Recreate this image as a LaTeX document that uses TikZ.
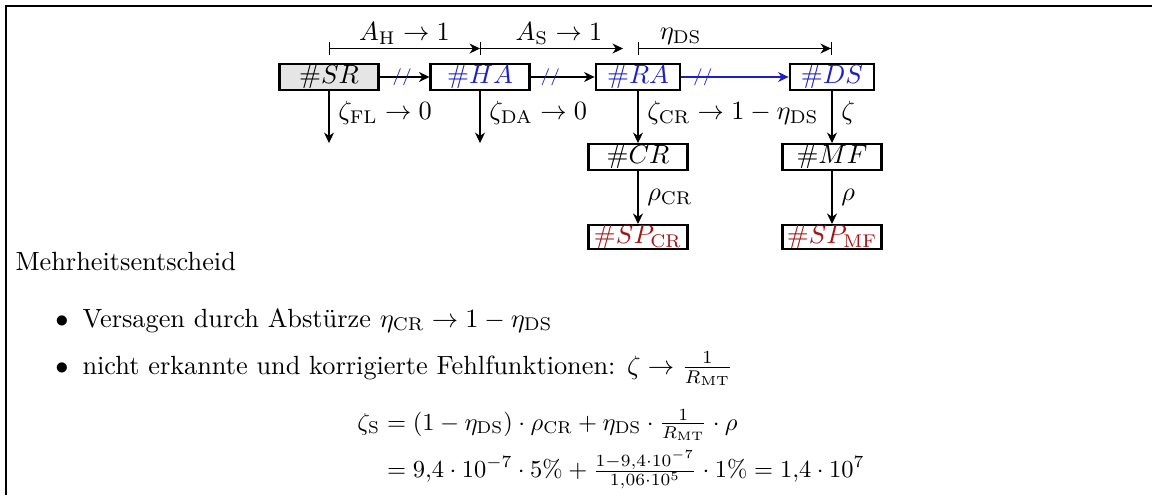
\documentclass[tikz,border=0pt]{standalone}
\usepackage{amsmath}
\usetikzlibrary{arrows.meta,calc}
\definecolor{flowblue}{RGB}{30,30,200}
\definecolor{sinkred}{RGB}{165,20,20}

\begin{document}
\begin{tikzpicture}[x=0.38pt,y=-0.38pt,
  state/.style={draw,thick,inner sep=0pt,minimum width=37.6pt,minimum height=10.2pt},
  flow/.style={-{Stealth[length=4pt,width=3.8pt]}},
  dimline/.style={{Bar[width=5pt]}-{Stealth[length=4pt,width=3.8pt]}},
  cut/.style={font=\fontsize{6.5}{6.5}\selectfont,text=flowblue,inner sep=0pt},
  txt/.style={inner sep=0pt}]
\useasboundingbox (0,0) rectangle (1152,495);
% frame
\draw[line width=0.6pt] (6,495) -- (6,6) -- (1152,6);
% states
\node[state,fill=black!10] (SR) at (329,77) {$\#SR$};
\node[state,text=flowblue] (HA) at (480,77) {$\#HA$};
\node[state,text=flowblue,minimum width=32.2pt] (RA) at (638,77) {$\#RA$};
\node[state,text=flowblue,minimum width=32.2pt] (DS) at (832,77) {$\#DS$};
\node[state,minimum height=9.8pt] (CR) at (638,157) {$\#CR$};
\node[state,minimum height=9.8pt] (MF) at (832,157) {$\#MF$};
\node[state,text=sinkred,minimum height=9.1pt] (SPCR) at (638,237) {$\#SP_\mathrm{CR}$};
\node[state,text=sinkred,minimum height=9.1pt] (SPMF) at (832,237) {$\#SP_\mathrm{MF}$};
% transitions
\draw[flow] (SR) -- node[cut,pos=0.45] {//} (HA);
\draw[flow] (HA) -- node[cut,pos=0.31] {//} (RA);
\draw[flow,flowblue] (RA) -- node[cut,pos=0.2] {//} (DS);
\coordinate (endSR) at (SR |- CR.north);
\coordinate (endHA) at (HA |- CR.north);
\draw[flow] (SR) -- node[right,yshift=1.5pt] {$\zeta_\mathrm{FL}\to 0$} (endSR);
\draw[flow] (HA) -- node[right,yshift=1.5pt] {$\zeta_\mathrm{DA}\to 0$} (endHA);
\draw[flow] (RA) -- node[right,yshift=1.5pt] {$\zeta_\mathrm{CR}\to 1-\eta_\mathrm{DS}$} (CR);
\draw[flow] (DS) -- node[right,yshift=1.5pt] {$\zeta$} (MF);
\draw[flow] (CR) -- node[right] {$\rho_\mathrm{CR}$} (SPCR);
\draw[flow] (MF) -- node[right] {$\rho$} (SPMF);
% measures above
\coordinate (topSR) at ($(SR.north)+(0,-14)$);
\coordinate (topHA) at ($(HA.north)+(0,-14)$);
\coordinate (topRA) at ($(RA.north)+(0,-14)$);
\coordinate (topDS) at ($(DS.north)+(0,-14)$);
\draw[dimline] (topSR) -- node[above,inner sep=1.3pt] {$A_\mathrm{H}\to 1$} (topHA);
\draw[dimline,shorten >=5.7pt] (topHA) -- node[above,inner sep=1.3pt] {$A_\mathrm{S}\to 1$} (topRA);
\draw[{Bar[width=5pt]}-{Stealth[length=4pt,width=3.8pt]Bar[width=5pt]}] (topRA) -- node[above,inner sep=1.3pt,pos=0.22] {$\eta_\mathrm{DS}$} (topDS);
% text
\node[txt,anchor=base west] (title) at (15,270) {Mehrheitsentscheid};
\node[txt,anchor=base] (dotA) at (62,327) {$\bullet$};
\node[txt,anchor=base west] (itemA) at (82,327) {Versagen durch Abstürze $\eta_\mathrm{CR}\to 1-\eta_\mathrm{DS}$};
\node[txt,anchor=base] (dotB) at (62,374) {$\bullet$};
\node[txt,anchor=base west] (itemB) at (82,374) {nicht erkannte und korrigierte Fehlfunktionen: $\zeta\to\frac{1}{R_\mathrm{MT}}$};
\node[txt,anchor=base west,scale=0.93] (calc) at (357,430) {$\begin{aligned}[t]
  \zeta_\mathrm{S} &= (1-\eta_\mathrm{DS})\cdot\rho_\mathrm{CR}+\eta_\mathrm{DS}\cdot\tfrac{1}{R_\mathrm{MT}}\cdot\rho\\
  &= 9{,}4\cdot 10^{-7}\cdot 5\%+\tfrac{1-9{,}4\cdot 10^{-7}}{1{,}06\cdot 10^{5}}\cdot 1\% = 1{,}4\cdot 10^{7}
\end{aligned}$};
\end{tikzpicture}
\end{document}
